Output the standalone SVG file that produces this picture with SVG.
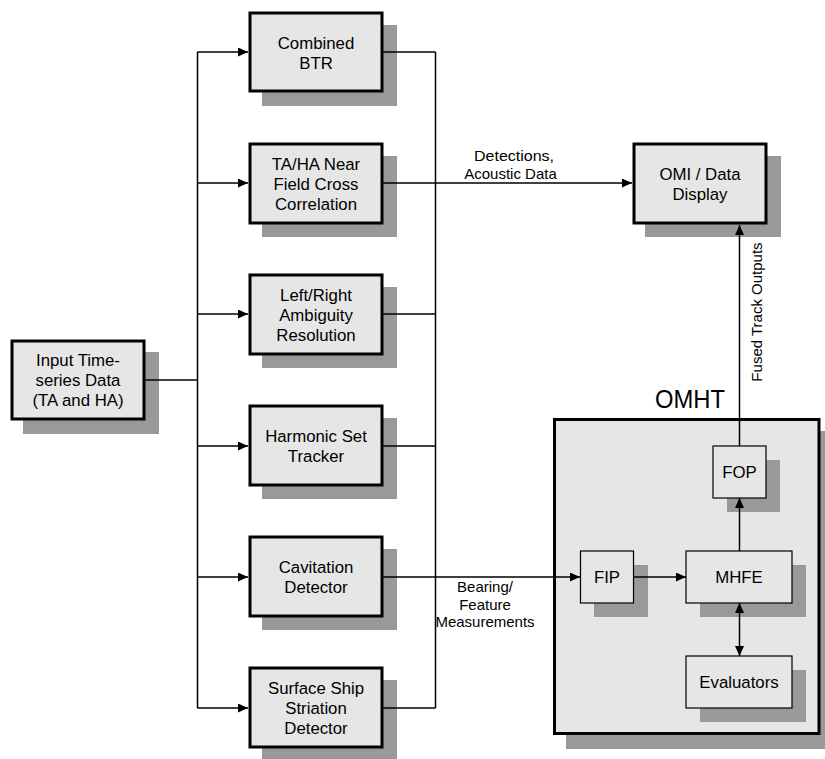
<svg xmlns="http://www.w3.org/2000/svg" width="825" height="759" viewBox="0 0 825 759">
<style>
.sh{fill:#999999;stroke:none}
.bx{fill:#e6e6e6;stroke:#000;stroke-width:3}
.sb{fill:#e6e6e6;stroke:#000;stroke-width:1.2}
.t{font-family:"Liberation Sans",Arial,sans-serif;font-size:16.8px;fill:#000;text-anchor:middle}
.l{font-family:"Liberation Sans",Arial,sans-serif;font-size:15px;fill:#000;text-anchor:middle}
.c{fill:none;stroke:#000;stroke-width:1.5}
</style>
<defs>
<marker id="ah" markerUnits="userSpaceOnUse" markerWidth="10" markerHeight="9" refX="10" refY="4.5" orient="auto-start-reverse">
<path d="M0,0 L10,4.5 L0,9 z" fill="#000"/>
</marker>
</defs>
<rect width="825" height="759" fill="#fff"/>

<g id="input">
<rect class="sh" x="23" y="352" width="136" height="82"/>
<rect class="bx" x="12" y="341" width="132" height="78"/>
<text class="t" x="78" y="366">Input Time-</text>
<text class="t" x="78" y="386">series Data</text>
<text class="t" x="78" y="406">(TA and HA)</text>
</g>

<g id="combined-btr">
<rect class="sh" x="262" y="25" width="135" height="81"/>
<rect class="bx" x="250" y="13" width="132" height="78"/>
<text class="t" x="316" y="48.5">Combined</text>
<text class="t" x="316" y="68.5">BTR</text>
</g>

<g id="near-field">
<rect class="sh" x="262" y="156" width="135" height="81"/>
<rect class="bx" x="250" y="144" width="132" height="79"/>
<text class="t" x="316" y="169.5">TA/HA Near</text>
<text class="t" x="316" y="189.5">Field Cross</text>
<text class="t" x="316" y="209.5">Correlation</text>
</g>

<g id="left-right">
<rect class="sh" x="262" y="287" width="135" height="81"/>
<rect class="bx" x="250" y="275" width="132" height="79"/>
<text class="t" x="316" y="300.5">Left/Right</text>
<text class="t" x="316" y="320.5">Ambiguity</text>
<text class="t" x="316" y="340.5">Resolution</text>
</g>

<g id="harmonic">
<rect class="sh" x="262" y="418" width="135" height="81"/>
<rect class="bx" x="250" y="406" width="132" height="79"/>
<text class="t" x="316" y="441.5">Harmonic Set</text>
<text class="t" x="316" y="461.5">Tracker</text>
</g>

<g id="cavitation">
<rect class="sh" x="262" y="549" width="135" height="81"/>
<rect class="bx" x="250" y="537" width="132" height="79"/>
<text class="t" x="316" y="572.5">Cavitation</text>
<text class="t" x="316" y="592.5">Detector</text>
</g>

<g id="surface-ship">
<rect class="sh" x="262" y="680" width="135" height="81"/>
<rect class="bx" x="250" y="668" width="132" height="79"/>
<text class="t" x="316" y="694">Surface Ship</text>
<text class="t" x="316" y="714">Striation</text>
<text class="t" x="316" y="734">Detector</text>
</g>

<g id="omi">
<rect class="sh" x="645" y="156" width="136" height="81"/>
<rect class="bx" x="634" y="144" width="132" height="79"/>
<text class="t" x="700" y="179.5">OMI / Data</text>
<text class="t" x="700" y="199.5">Display</text>
</g>

<g id="omht">
<rect class="sh" x="566" y="431" width="262" height="318"/>
<rect class="bx" x="554.5" y="419.5" width="264.5" height="314"/>
<text x="690" y="408" font-family="'Liberation Sans',Arial,sans-serif" font-size="25.5" text-anchor="middle" textLength="70" lengthAdjust="spacingAndGlyphs">OMHT</text>
</g>

<g id="fop">
<rect class="sh" x="727" y="460" width="53" height="52"/>
<rect class="sb" x="713" y="446" width="53" height="52"/>
<text class="t" x="739.5" y="478">FOP</text>
</g>

<g id="fip">
<rect class="sh" x="594" y="565" width="54" height="52"/>
<rect class="sb" x="580.5" y="551" width="53" height="52"/>
<text class="t" x="607" y="583">FIP</text>
</g>

<g id="mhfe">
<rect class="sh" x="700" y="565" width="106" height="52"/>
<rect class="sb" x="686" y="551" width="106" height="52"/>
<text class="t" x="739" y="583">MHFE</text>
</g>

<g id="evaluators">
<rect class="sh" x="700" y="670" width="106" height="52"/>
<rect class="sb" x="686" y="656" width="106" height="52"/>
<text class="t" x="739" y="688">Evaluators</text>
</g>

<g id="connectors">
<path class="c" d="M145,380 H197.5"/>
<path class="c" d="M197.5,52 V708"/>
<path class="c" d="M197.5,52 H248" marker-end="url(#ah)"/>
<path class="c" d="M197.5,183 H248" marker-end="url(#ah)"/>
<path class="c" d="M197.5,314 H248" marker-end="url(#ah)"/>
<path class="c" d="M197.5,446 H248" marker-end="url(#ah)"/>
<path class="c" d="M197.5,577 H248" marker-end="url(#ah)"/>
<path class="c" d="M197.5,708 H248" marker-end="url(#ah)"/>
<path class="c" d="M435.5,52 V708"/>
<path class="c" d="M383,52 H435.5"/>
<path class="c" d="M383,314 H435.5"/>
<path class="c" d="M383,446 H435.5"/>
<path class="c" d="M383,708 H435.5"/>
<path class="c" d="M383,183 H632" marker-end="url(#ah)"/>
<path class="c" d="M383,577 H580" marker-end="url(#ah)"/>
<path class="c" d="M634,577 H686" marker-end="url(#ah)"/>
<path class="c" d="M739.5,551 V498" marker-end="url(#ah)"/>
<path class="c" d="M739.5,603 V656" marker-start="url(#ah)" marker-end="url(#ah)"/>
<path class="c" d="M739.5,446 V225" marker-end="url(#ah)"/>
<text class="l" x="514" y="161" textLength="80" lengthAdjust="spacingAndGlyphs">Detections,</text>
<text class="l" x="510.5" y="178.5">Acoustic Data</text>
<text class="l" x="485" y="592">Bearing/</text>
<text class="l" x="485" y="609.5">Feature</text>
<text class="l" x="485" y="627">Measurements</text>
<text class="l" x="761.5" y="312" transform="rotate(-90 761.5 312)">Fused Track Outputs</text>
</g>
</svg>
